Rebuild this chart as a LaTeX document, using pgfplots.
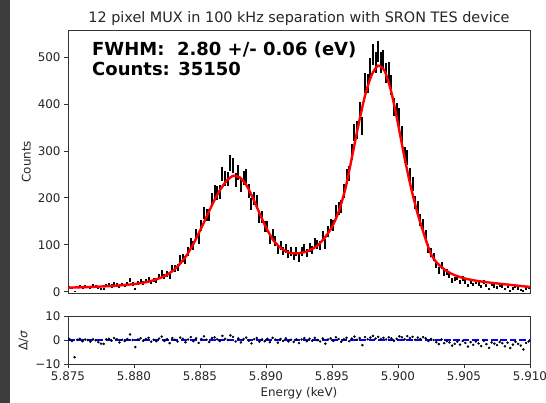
\documentclass[border=0pt]{standalone}
\usepackage{fontspec}
\setmainfont{DejaVu Sans}
\usepackage{pgfplots}
\usepackage{pgfplotstable}
\pgfplotsset{compat=1.18}
\definecolor{strip}{rgb}{0.24,0.24,0.24}
\definecolor{axcol}{rgb}{0.2,0.2,0.2}

\pgfplotstableread{
E N R
5.8751 10 0.5
5.8753 8 -0.3
5.8755 1 -7.0
5.8757 10 0.2
5.8759 11 0.6
5.8761 8 -0.4
5.8763 11 0.3
5.8765 10 0.1
5.8767 8 -0.6
5.8769 12 0.4
5.8771 11 0.0
5.8773 8 -0.8
5.8775 6 -1.4
5.8777 6 -1.5
5.8779 13 0.3
5.8781 14 0.6
5.8783 12 -0.2
5.8785 16 0.9
5.8787 14 0.4
5.8789 10 -0.9
5.8791 15 0.2
5.8793 13 -0.3
5.8795 17 0.5
5.8797 25 2.4
5.8799 16 0.1
5.8801 6 -2.8
5.8803 19 0.3
5.8805 22 0.8
5.8807 18 -0.2
5.8809 23 0.5
5.8811 26 1.0
5.8813 20 -0.6
5.8815 25 0.2
5.8817 24 -0.4
5.8819 32 0.7
5.8821 39 1.5
5.8823 32 -0.3
5.8825 38 0.4
5.8827 32 -1.2
5.8829 50 0.9
5.8831 50 0.2
5.8833 51 -0.5
5.8835 69 1.1
5.8837 72 0.6
5.8839 67 -0.8
5.8841 86 0.3
5.8843 105 1.3
5.8845 98 -0.4
5.8847 122 0.8
5.8849 112 -1.1
5.8851 142 0.5
5.8853 167 1.6
5.8855 163 0.2
5.8857 163 -0.7
5.8859 196 0.9
5.8861 212 1.2
5.8863 211 0.4
5.8865 212 -0.3
5.8867 251 1.8
5.8869 241 0.6
5.8871 240 0.1
5.8873 274 2.0
5.8875 269 1.4
5.8877 238 -0.5
5.8879 255 0.7
5.8881 227 -0.9
5.8883 242 0.5
5.8885 245 1.1
5.8887 214 -0.2
5.8889 187 -1.3
5.8891 199 0.4
5.8893 193 0.9
5.8895 160 -0.6
5.8897 159 0.3
5.8899 138 -0.4
5.8901 139 0.6
5.8903 113 -0.8
5.8905 123 1.0
5.8907 108 0.2
5.8909 89 -1.0
5.8911 99 0.5
5.8913 87 -0.3
5.8915 93 0.8
5.8917 80 -0.5
5.8919 85 0.2
5.8921 76 -0.7
5.8923 86 0.4
5.8925 71 -1.2
5.8927 86 0.3
5.8929 93 0.9
5.8931 82 -0.4
5.8933 94 0.6
5.8935 89 -0.2
5.8937 105 1.0
5.8939 100 0.1
5.8941 99 -0.5
5.8943 118 0.7
5.8945 102 -1.4
5.8947 129 0.3
5.8949 143 0.8
5.8951 141 -0.3
5.8953 172 1.2
5.8955 177 0.5
5.8957 181 -0.6
5.8959 214 0.4
5.8961 246 1.0
5.8963 252 -0.4
5.8965 297 0.7
5.8967 340 1.5
5.8969 345 0.2
5.8971 385 0.9
5.8973 353 -2.0
5.8975 445 1.3
5.8977 444 0.4
5.8979 476 1.1
5.8981 505 1.8
5.8983 489 0.7
5.8985 513 1.4
5.8987 488 0.5
5.8989 494 1.0
5.8991 467 0.3
5.8993 468 1.2
5.8995 441 0.8
5.8997 394 -0.2
5.8999 383 0.6
5.9001 373 1.6
5.9003 335 1.2
5.9005 292 0.4
5.9007 286 1.7
5.9009 247 0.9
5.9011 229 1.4
5.9013 190 0.2
5.9015 179 1.1
5.9017 153 0.5
5.9019 144 1.3
5.9021 120 0.8
5.9023 93 -0.3
5.9025 84 0.5
5.9027 73 0.1
5.9029 58 -0.8
5.9031 45 -1.6
5.9033 55 0.3
5.9035 40 -1.2
5.9037 42 -0.4
5.9039 35 -0.9
5.9041 24 -2.2
5.9043 27 -1.5
5.9045 30 -0.6
5.9047 21 -1.8
5.9049 28 -0.3
5.9051 22 -1.1
5.9053 13 -2.6
5.9055 22 -0.8
5.9057 15 -1.9
5.9059 21 -0.5
5.9061 16 -1.3
5.9063 11 -2.4
5.9065 20 -0.2
5.9067 13 -1.6
5.9069 6 -3.1
5.9071 15 -0.9
5.9073 12 -1.4
5.9075 9 -2.0
5.9077 14 -0.7
5.9079 12 -1.2
5.9081 6 -2.5
5.9083 11 -1.0
5.9085 2 -3.2
5.9087 7 -1.8
5.9089 11 -0.6
5.9091 7 -1.5
5.9093 4 -2.2
5.9095 2 -3.8
5.9097 7 -1.1
5.9099 9 -0.5
}\spec

\pgfplotstableread{
E F
5.8750 8.5
5.8755 9.0
5.8760 9.4
5.8765 9.9
5.8770 10.4
5.8775 11.0
5.8780 11.7
5.8785 12.5
5.8790 13.6
5.8795 14.8
5.8800 16.3
5.8805 18.2
5.8810 20.8
5.8815 24.5
5.8820 29.5
5.8825 36
5.8830 46
5.8835 60
5.8840 78
5.8845 102
5.8850 130
5.8855 160
5.8860 190
5.8865 216
5.8870 236
5.8875 247
5.8880 244
5.8885 228
5.8890 200
5.8895 168
5.8900 137
5.8905 112
5.8910 96
5.8915 86
5.8920 82
5.8925 82
5.8930 85
5.8935 91
5.8940 101
5.8945 117
5.8950 138
5.8955 170
5.8960 218
5.8965 285
5.8970 355
5.8975 418
5.8980 462
5.8985 482
5.8990 470
5.8995 425
5.9000 358
5.9005 285
5.9010 220
5.9015 165
5.9020 120
5.9025 80
5.9030 60
5.9035 48
5.9040 39
5.9045 33
5.9050 28.5
5.9055 25.5
5.9060 23
5.9065 21
5.9070 19.2
5.9075 17.6
5.9080 16.0
5.9085 14.5
5.9090 13
5.9095 11.5
5.9100 10.2
}\fitcurve

\pgfplotsset{
  myaxis/.style={
    scale only axis,
    width=462pt,
    xmin=5.875, xmax=5.910,
    axis line style={axcol, line width=0.9pt},
    every tick/.style={axcol, line width=0.9pt},
    tick align=outside,
    major tick length=4pt,
    xtick pos=bottom, ytick pos=left,
    /pgf/number format/assume math mode=true,
    tick label style={font=\fontsize{11.9}{14}\selectfont, text=black!85},
    label style={font=\fontsize{11.9}{14}\selectfont, text=black!85},
  }
}

\begin{document}
\begin{tikzpicture}
\fill[white] (0,0) rectangle (546pt,403pt);
\fill[strip] (0,0) rectangle (9.5pt,403pt);

\begin{axis}[myaxis,
  at={(68pt,110pt)}, anchor=south west,
  height=262.5pt,
  ymin=-2.8, ymax=557,
  xtick=\empty,
  ytick={0,100,200,300,400,500},
  ylabel={Counts},
]
\addplot[draw=none, mark=none, forget plot,
  error bars/.cd, y dir=both, y explicit,
  error mark=none,
  error bar style={draw=black, line width=2pt}]
  table[x=E, y=N, y error expr={sqrt(\thisrow{N})}] {\spec};
\addplot[red, line width=2.4pt, smooth, tension=0.4] table[x=E, y=F] {\fitcurve};
\end{axis}

\begin{axis}[myaxis,
  at={(68pt,38.5pt)}, anchor=south west,
  height=48.5pt,
  ymin=-10, ymax=10,
  xtick={5.875,5.88,5.885,5.89,5.895,5.9,5.905,5.91},
  xticklabels={5.875,5.880,5.885,5.890,5.895,5.900,5.905,5.910},
  ytick={-10,0,10},
  yticklabels={−10,0,10},
  xlabel={Energy (keV)},
  ylabel={Δ/\textit{σ}},
]
\addplot[blue, line width=2pt, dash pattern=on 6.6pt off 2.8pt] coordinates {(5.875,0) (5.910,0)};
\addplot[only marks, mark=*, mark size=1.05pt, black] table[x=E, y=R] {\spec};
\end{axis}

\node[anchor=base, font=\fontsize{14.4}{17}\selectfont, text=black!85, inner sep=0pt] at (299pt,380pt) {12 pixel MUX in 100 kHz separation with SRON TES device};
\node[anchor=base west, font=\fontsize{18}{20}\selectfont\bfseries, inner sep=0pt] at (92pt,347pt) {FWHM:\ \ 2.80 +/- 0.06 (eV)};
\node[anchor=base west, font=\fontsize{18}{20}\selectfont\bfseries, inner sep=0pt] at (92pt,327.3pt) {Counts: 35150};

\pgfresetboundingbox
\useasboundingbox (0,0) rectangle (546pt,403pt);
\end{tikzpicture}
\end{document}
